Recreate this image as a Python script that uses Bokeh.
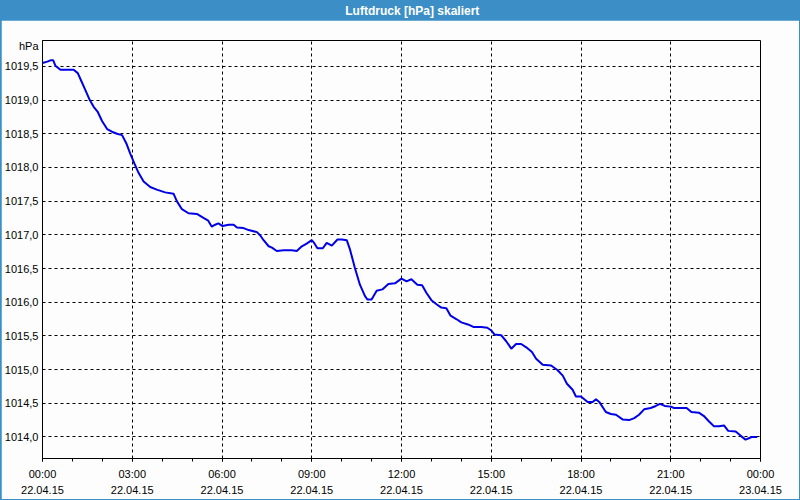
from bokeh.plotting import figure
from bokeh.layouts import column
from bokeh.models import FixedTicker, CustomJSTickFormatter
from bokeh.core.properties import value
from bokeh.embed import file_html
from bokeh.resources import INLINE

title_text = "Luftdruck [hPa] skaliert"
unit_label = "hPa"

hours = [0.00, 0.16, 0.27, 0.36, 0.43, 0.60, 1.04, 1.18, 1.29, 1.43, 1.58, 1.71, 1.84, 1.99,
         2.16, 2.32, 2.49, 2.66, 2.80, 2.93, 3.07, 3.21, 3.38, 3.60, 3.82, 4.10, 4.38, 4.49,
         4.66, 4.88, 5.16, 5.38, 5.54, 5.66, 5.77, 5.88, 6.02, 6.22, 6.39, 6.50, 6.72, 6.89,
         7.17, 7.28, 7.39, 7.56, 7.67, 7.83, 8.06, 8.33, 8.50, 8.67, 8.83, 9.00, 9.08, 9.19,
         9.37, 9.50, 9.67, 9.86, 10.00, 10.17, 10.28, 10.44, 10.61, 10.78, 10.86, 11.00,
         11.17, 11.36, 11.56, 11.78, 12.00, 12.17, 12.33, 12.53, 12.69, 12.83, 13.00, 13.17,
         13.33, 13.50, 13.64, 13.83, 14.00, 14.22, 14.42, 14.67, 14.87, 15.00, 15.11, 15.33,
         15.50, 15.67, 15.83, 16.00, 16.17, 16.36, 16.50, 16.72, 17.00, 17.22, 17.39, 17.53,
         17.72, 17.83, 18.00, 18.22, 18.39, 18.50, 18.61, 18.83, 19.00, 19.17, 19.39, 19.61,
         19.78, 19.94, 20.11, 20.33, 20.50, 20.64, 20.80, 21.00, 21.11, 21.44, 21.53, 21.69,
         21.94, 22.11, 22.28, 22.44, 22.61, 22.78, 22.92, 23.17, 23.33, 23.50, 23.61, 23.72,
         23.89]
pressure = [1019.55, 1019.57, 1019.59, 1019.59, 1019.51, 1019.45, 1019.45, 1019.40, 1019.29,
            1019.15, 1019.00, 1018.90, 1018.83, 1018.69, 1018.57, 1018.53, 1018.50, 1018.48,
            1018.36, 1018.21, 1018.06, 1017.92, 1017.79, 1017.71, 1017.67, 1017.63, 1017.61,
            1017.50, 1017.38, 1017.32, 1017.31, 1017.25, 1017.21, 1017.12, 1017.15, 1017.17,
            1017.13, 1017.15, 1017.15, 1017.11, 1017.10, 1017.07, 1017.04, 1016.99, 1016.92,
            1016.83, 1016.81, 1016.76, 1016.77, 1016.77, 1016.76, 1016.83, 1016.87, 1016.92,
            1016.88, 1016.80, 1016.80, 1016.88, 1016.84, 1016.93, 1016.93, 1016.92, 1016.78,
            1016.51, 1016.26, 1016.09, 1016.04, 1016.04, 1016.17, 1016.19, 1016.27, 1016.28,
            1016.35, 1016.31, 1016.34, 1016.26, 1016.25, 1016.14, 1016.03, 1015.97, 1015.92,
            1015.91, 1015.80, 1015.75, 1015.70, 1015.67, 1015.63, 1015.63, 1015.62, 1015.58,
            1015.52, 1015.51, 1015.42, 1015.31, 1015.38, 1015.38, 1015.33, 1015.26, 1015.16,
            1015.07, 1015.06, 1014.99, 1014.91, 1014.79, 1014.70, 1014.60, 1014.60, 1014.52,
            1014.52, 1014.56, 1014.52, 1014.37, 1014.34, 1014.33, 1014.26, 1014.25, 1014.28,
            1014.33, 1014.41, 1014.43, 1014.46, 1014.49, 1014.46, 1014.45, 1014.43, 1014.43,
            1014.43, 1014.37, 1014.36, 1014.31, 1014.23, 1014.16, 1014.16, 1014.17, 1014.09,
            1014.08, 1014.02, 1013.96, 1013.98, 1014.00, 1014.00]

x_ticks = [0, 3, 6, 9, 12, 15, 18, 21, 24]
x_minor_ticks = list(range(0, 25))
x_tick_labels = ["00:00\n22.04.15", "03:00\n22.04.15", "06:00\n22.04.15", "09:00\n22.04.15",
                 "12:00\n22.04.15", "15:00\n22.04.15", "18:00\n22.04.15", "21:00\n22.04.15",
                 "00:00\n23.04.15"]
y_ticks = [1014.0, 1014.5, 1015.0, 1015.5, 1016.0, 1016.5, 1017.0, 1017.5, 1018.0, 1018.5,
           1019.0, 1019.5]
y_unit_pos = 1019.8

BLUE = "#3c8fc6"
BG = "#fcfdfc"
FONT = "Liberation Sans"

# title bar
t = figure(width=800, height=20, x_range=(0, 800), y_range=(0, 20), toolbar_location=None,
           output_backend="svg", x_axis_type=None, y_axis_type=None, min_border=0)
t.grid.visible = False
t.outline_line_color = None
t.background_fill_color = BLUE
t.border_fill_color = BLUE
t.text(x=[412], y=[10], text=[title_text], text_font=value(FONT), text_font_style="bold",
       text_font_size="12px", text_color="white", text_align="center", text_baseline="middle")

p = figure(width=798, height=479, x_range=(0, 24), y_range=(1013.68, 1019.884),
           toolbar_location=None, output_backend="svg", margin=(0, 1, 1, 1),
           min_border_left=39, min_border_right=39, min_border_top=20, min_border_bottom=38)
p.background_fill_color = BG
p.border_fill_color = BG
p.outline_line_color = "black"
p.outline_line_width = 1

p.line(hours, pressure, line_color="#0000e6", line_width=2)

p.xaxis.ticker = FixedTicker(ticks=x_ticks, minor_ticks=x_minor_ticks)
p.xaxis.major_label_overrides = {k: v for k, v in zip(x_ticks, x_tick_labels)}
p.yaxis.ticker = FixedTicker(ticks=y_ticks + [y_unit_pos])
p.yaxis.formatter = CustomJSTickFormatter(
    args=dict(unit=unit_label),
    code="return tick > 1019.7 ? unit : tick.toFixed(1).replace('.', ',');")

p.xgrid.ticker = FixedTicker(ticks=x_ticks[1:-1])
p.ygrid.ticker = FixedTicker(ticks=y_ticks)
p.grid.grid_line_color = "black"
p.grid.grid_line_dash = "3 3"
p.grid.grid_line_width = 1

for ax in (p.xaxis[0], p.yaxis[0]):
    ax.axis_line_color = "black"
    ax.major_label_text_font = FONT
    ax.major_label_text_font_size = "11px"
    ax.major_label_text_color = "black"

p.xaxis.major_tick_in = 0
p.xaxis.major_tick_out = 3
p.xaxis.minor_tick_in = 0
p.xaxis.minor_tick_out = 3
p.xaxis.major_tick_line_color = "black"
p.xaxis.minor_tick_line_color = "black"
p.xaxis.major_label_standoff = 6
p.xaxis.major_label_text_line_height = 1.4

p.yaxis.major_tick_line_color = None
p.yaxis.minor_tick_line_color = None
p.yaxis.major_tick_in = 0
p.yaxis.major_tick_out = 0
p.yaxis.major_label_standoff = 4

layout = column(t, p, spacing=0, styles={"background-color": BLUE})
open("out.html", "w").write(file_html(layout, INLINE))
